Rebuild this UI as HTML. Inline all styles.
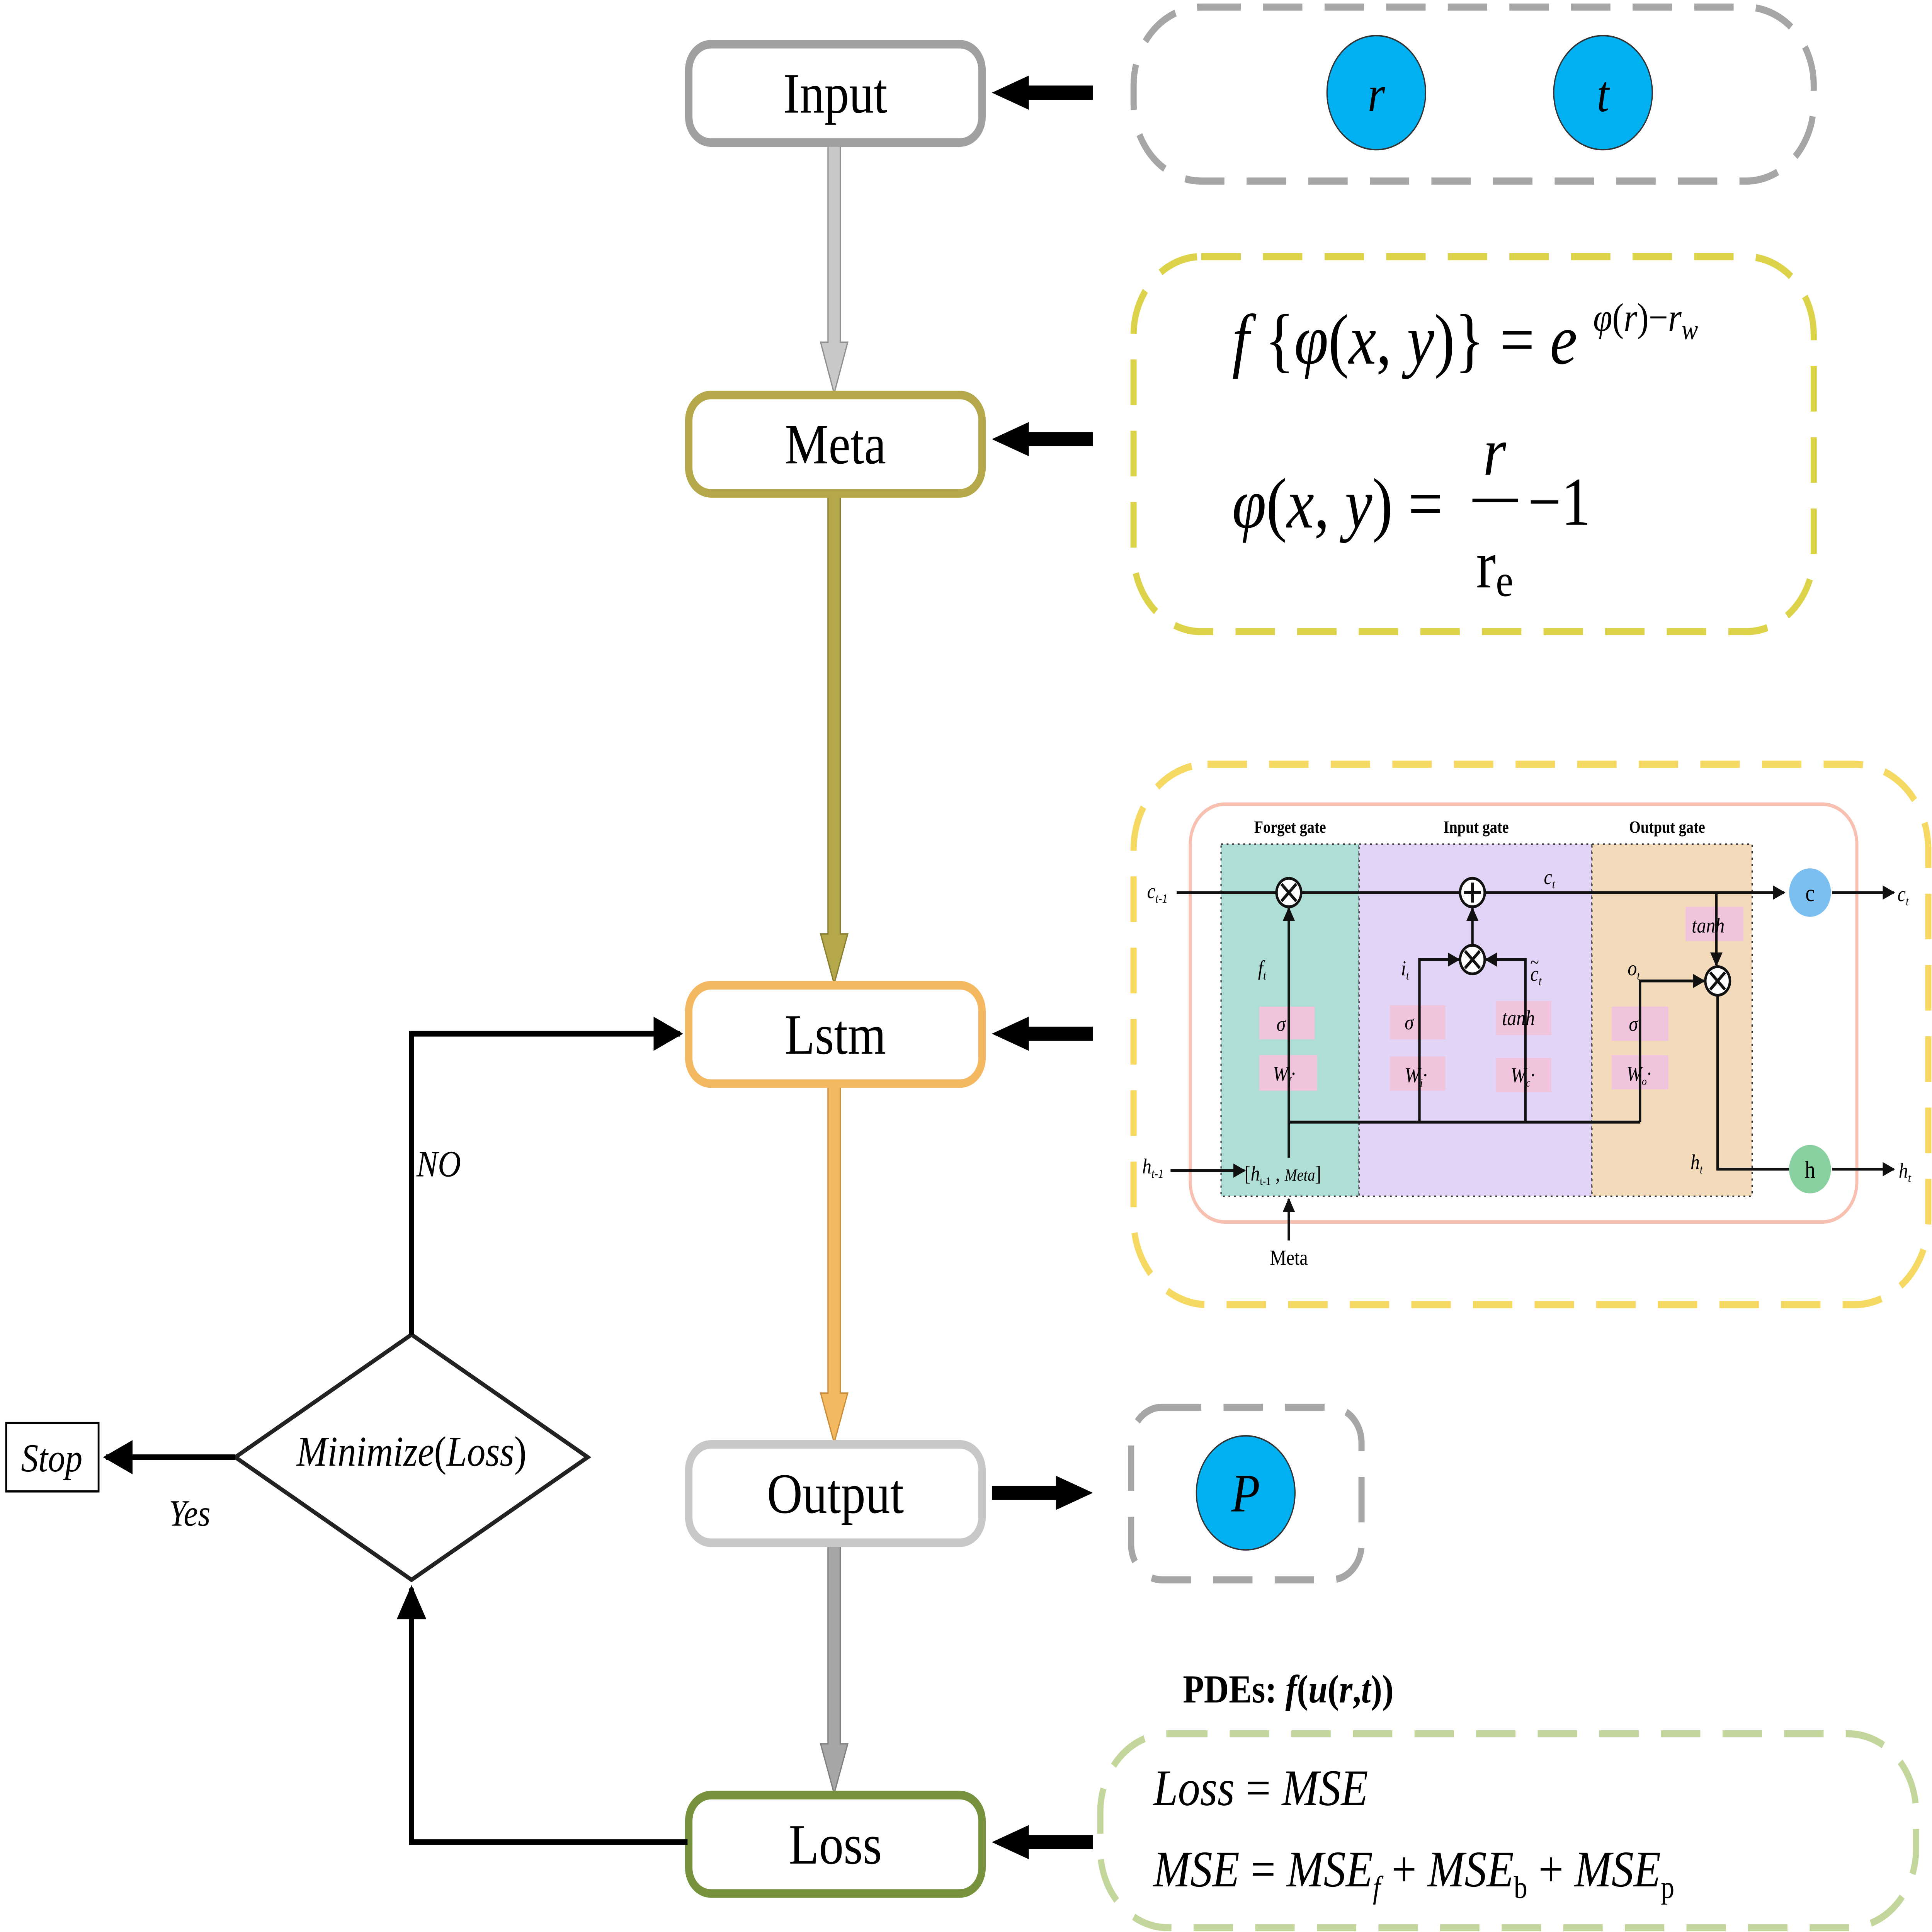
<!DOCTYPE html>
<html><head><meta charset="utf-8"><style>
html,body{margin:0;padding:0;background:#fff;overflow:hidden;width:100%;height:100%;}
svg{display:block;position:fixed;left:0;top:0;width:100vw;height:100vh;}
text{font-family:"Liberation Serif",serif;}
</style></head><body>
<svg viewBox="0 0 1568 1355" preserveAspectRatio="none" xmlns="http://www.w3.org/2000/svg">
<defs>
<marker id="ah" viewBox="0 0 10 10" refX="9" refY="5" markerWidth="6" markerHeight="6" orient="auto-start-reverse"><path d="M0,0 L10,5 L0,10 z" fill="#000"/></marker>
<marker id="as" viewBox="0 0 10 10" refX="9" refY="5" markerWidth="5" markerHeight="5" orient="auto-start-reverse"><path d="M0,0 L10,5 L0,10 z" fill="#111"/></marker>
</defs>
<rect width="1568" height="1355" fill="#fff"/>

<path d="M672,100 H682 V240 H688 L677,276 L666,240 H672 Z" fill="#c8c8c8" stroke="#909090" stroke-width="1"/>
<path d="M672,346 H682 V655 H688 L677,690 L666,655 H672 Z" fill="#b5a84a" stroke="#8a7f30" stroke-width="1"/>
<path d="M672,760 H682 V977 H688 L677,1012 L666,977 H672 Z" fill="#f4b860" stroke="#c98e3a" stroke-width="1"/>
<path d="M672,1082 H682 V1223 H688 L677,1258 L666,1223 H672 Z" fill="#a6a6a6" stroke="#808080" stroke-width="1"/>

<g stroke-width="6" fill="#fff">
<rect x="559" y="31" width="238" height="69" rx="18" stroke="#a0a0a0"/>
<rect x="559" y="277" width="238" height="69" rx="18" stroke="#b5a84a"/>
<rect x="559" y="691" width="238" height="69" rx="18" stroke="#f4b860"/>
<rect x="559" y="1013" width="238" height="69" rx="18" stroke="#c8c8c8"/>
<rect x="559" y="1259" width="238" height="69" rx="18" stroke="#76923c"/>
</g>
<g font-size="40" text-anchor="middle" fill="#000">
<text x="678" y="79">Input</text>
<text x="678" y="325">Meta</text>
<text x="678" y="739">Lstm</text>
<text x="678" y="1061">Output</text>
<text x="678" y="1307">Loss</text>
</g>

<g fill="#000">
<path d="M887,60 H835 V53 L805,65 L835,77 V70 H887 Z"/>
<path d="M887,303 H835 V296 L805,308 L835,320 V313 H887 Z"/>
<path d="M887,720 H835 V713 L805,725 L835,737 V730 H887 Z"/>
<path d="M887,1287 H835 V1280 L805,1292 L835,1304 V1297 H887 Z"/>
<path d="M805,1042 H857 V1035 L887,1047 L857,1059 V1052 H805 Z"/>
</g>

<g fill="none" stroke-width="5" stroke-dasharray="32,18">
<rect x="920" y="5" width="552" height="122" rx="55" stroke="#a6a6a6"/>
<rect x="920" y="180" width="552" height="263" rx="55" stroke="#dcd34a"/>
<rect x="920" y="536" width="645" height="379" rx="60" stroke="#f5d962"/>
<rect x="918" y="987" width="187" height="121" rx="25" stroke="#a6a6a6"/>
<rect x="893" y="1216" width="662" height="136" rx="55" stroke="#c3d69b"/>
</g>

<circle cx="1117" cy="65" r="40" fill="#00b0f0" stroke="#333" stroke-width="1"/>
<circle cx="1301" cy="65" r="40" fill="#00b0f0" stroke="#333" stroke-width="1"/>
<text x="1117" y="78" font-size="36" font-style="italic" text-anchor="middle">r</text>
<text x="1301" y="78" font-size="36" font-style="italic" text-anchor="middle">t</text>
<circle cx="1011" cy="1047" r="40" fill="#00b0f0" stroke="#333" stroke-width="1"/>
<text x="1011" y="1060" font-size="38" font-style="italic" text-anchor="middle">P</text>

<text x="1000" y="255" font-size="50" font-style="italic">f<tspan font-style="normal"> {</tspan>φ<tspan font-style="normal">(</tspan>x<tspan font-style="normal">, </tspan>y<tspan font-style="normal">)}</tspan><tspan font-style="normal"> = </tspan>e</text>
<text x="1293" y="232" font-size="28" font-style="italic">φ<tspan font-style="normal">(</tspan>r<tspan font-style="normal">)−</tspan>r<tspan font-size="20" dy="6">w</tspan></text>
<text x="1000" y="370" font-size="50" font-style="italic">φ<tspan font-style="normal">(</tspan>x<tspan font-style="normal">, </tspan>y<tspan font-style="normal">) =</tspan></text>
<text x="1213" y="333" font-size="48" font-style="italic" text-anchor="middle">r</text>
<line x1="1195" y1="351" x2="1232" y2="351" stroke="#000" stroke-width="2.5"/>
<text x="1240" y="368" font-size="48">−1</text>
<text x="1198" y="412" font-size="48">r<tspan font-size="32" dy="6">e</tspan></text>

<text x="960" y="1194" font-size="28" font-weight="bold">PDEs:  <tspan font-style="italic">f</tspan>(<tspan font-style="italic">u</tspan>(<tspan font-style="italic">r</tspan>,<tspan font-style="italic">t</tspan>))</text>
<text x="936" y="1266" font-size="36" font-style="italic">Loss <tspan font-style="normal">=</tspan> MSE</text>
<text x="936" y="1323" font-size="36" font-style="italic">MSE <tspan font-style="normal">=</tspan> MSE<tspan font-size="22" dy="8">f</tspan><tspan dy="-8" font-style="normal"> + </tspan>MSE<tspan font-size="22" dy="8" font-style="normal">b</tspan><tspan dy="-8" font-style="normal"> + </tspan>MSE<tspan font-size="22" dy="8" font-style="normal">p</tspan></text>

<polygon points="334,936 477,1022 334,1108 191,1022" fill="#fff" stroke="#222" stroke-width="3"/>
<text x="334" y="1028" font-size="30" font-style="italic" text-anchor="middle">Minimize<tspan font-style="normal">(</tspan>Loss<tspan font-style="normal">)</tspan></text>
<polyline points="334,936 334,725 552,725" fill="none" stroke="#000" stroke-width="4" marker-end="url(#ah)"/>
<polyline points="558,1292 334,1292 334,1114" fill="none" stroke="#000" stroke-width="4" marker-end="url(#ah)"/>
<line x1="191" y1="1022" x2="86" y2="1022" stroke="#000" stroke-width="4" marker-end="url(#ah)"/>
<text x="338" y="825" font-size="26" font-style="italic">NO</text>
<text x="137" y="1070" font-size="26" font-style="italic">Yes</text>
<rect x="5" y="998" width="75" height="48" fill="#fff" stroke="#000" stroke-width="1.5"/>
<text x="42" y="1032" font-size="28" font-style="italic" text-anchor="middle">Stop</text>

<rect x="966" y="564" width="541" height="293" rx="28" fill="#fff" stroke="#f8c0b0" stroke-width="2.5"/>
<g stroke="#333" stroke-width="1" stroke-dasharray="1.5,3">
<rect x="991" y="592" width="112" height="247" fill="#aeded6"/>
<rect x="1103" y="592" width="189" height="247" fill="#e2d4f6"/>
<rect x="1292" y="592" width="130" height="247" fill="#f2dabb"/>
</g>
<g font-size="12" font-weight="bold" text-anchor="middle">
<text x="1047" y="584">Forget gate</text>
<text x="1198" y="584">Input gate</text>
<text x="1353" y="584">Output gate</text>
</g>
<g fill="#f0c4dc">
<rect x="1022" y="706" width="45" height="23"/>
<rect x="1022" y="740" width="47" height="25"/>
<rect x="1128" y="705" width="45" height="24"/>
<rect x="1128" y="741" width="45" height="24"/>
<rect x="1214" y="702" width="45" height="24"/>
<rect x="1214" y="742" width="45" height="24"/>
<rect x="1308" y="706" width="46" height="24"/>
<rect x="1308" y="740" width="46" height="24"/>
<rect x="1368" y="636" width="47" height="24"/>
</g>
<g stroke="#111" stroke-width="2" fill="none">
<line x1="955" y1="626" x2="1448" y2="626" marker-end="url(#as)"/>
<line x1="1487" y1="626" x2="1537" y2="626" marker-end="url(#as)"/>
<line x1="1046" y1="812" x2="1046" y2="637" marker-end="url(#as)"/>
<line x1="1046" y1="787" x2="1331" y2="787"/>
<polyline points="1152,787 1152,673 1184,673" marker-end="url(#as)"/>
<polyline points="1238,787 1238,673 1206,673" marker-end="url(#as)"/>
<line x1="1195" y1="663" x2="1195" y2="637" marker-end="url(#as)"/>
<polyline points="1331,787 1331,688 1383,688" marker-end="url(#as)"/>
<line x1="1393" y1="626" x2="1393" y2="677" marker-end="url(#as)"/>
<polyline points="1394,698 1394,820 1452,820"/>
<line x1="1487" y1="820" x2="1537" y2="820" marker-end="url(#as)"/>
<line x1="950" y1="821" x2="1010" y2="821" marker-end="url(#as)"/>
<line x1="1046" y1="870" x2="1046" y2="841" marker-end="url(#as)"/>
</g>
<g fill="#fff" stroke="#111" stroke-width="2">
<circle cx="1046" cy="626" r="10"/><circle cx="1195" cy="626" r="10"/>
<circle cx="1195" cy="673" r="10"/><circle cx="1394" cy="688" r="10"/>
</g>
<g stroke="#111" stroke-width="2.2">
<path d="M1040,620 L1052,632 M1052,620 L1040,632"/>
<path d="M1189,667 L1201,679 M1201,667 L1189,679"/>
<path d="M1388,682 L1400,694 M1400,682 L1388,694"/>
<path d="M1195,619 V633 M1188,626 H1202"/>
</g>
<circle cx="1469" cy="626" r="17" fill="#7bbff0"/>
<circle cx="1469" cy="820" r="17" fill="#88d0a0"/>
<text x="1469" y="632" font-size="17" text-anchor="middle">c</text>
<text x="1469" y="826" font-size="17" text-anchor="middle">h</text>
<g font-size="15" font-style="italic">
<text x="931" y="630">c<tspan font-size="9" dy="3">t-1</tspan></text>
<text x="1253" y="620">c<tspan font-size="9" dy="3">t</tspan></text>
<text x="1540" y="632">c<tspan font-size="9" dy="3">t</tspan></text>
<text x="927" y="823">h<tspan font-size="9" dy="3">t-1</tspan></text>
<text x="1541" y="826">h<tspan font-size="9" dy="3">t</tspan></text>
<text x="1372" y="820">h<tspan font-size="9" dy="3">t</tspan></text>
<text x="1021" y="684">f<tspan font-size="9" dy="3">t</tspan></text>
<text x="1137" y="684">i<tspan font-size="9" dy="3">t</tspan></text>
<text x="1242" y="688">c<tspan font-size="9" dy="3">t</tspan></text>
<text x="1242" y="679" font-size="13" font-style="normal">~</text>
<text x="1321" y="684">o<tspan font-size="9" dy="3">t</tspan></text>
<text x="1036" y="723">σ</text>
<text x="1140" y="722">σ</text>
<text x="1322" y="723">σ</text>
<text x="1219" y="719">tanh</text>
<text x="1373" y="654">tanh</text>
<text x="1033" y="758">W<tspan font-size="8" dy="3">f</tspan><tspan dy="-3">·</tspan></text>
<text x="1140" y="759">W<tspan font-size="8" dy="3">i</tspan><tspan dy="-3">·</tspan></text>
<text x="1226" y="759">W<tspan font-size="8" dy="3">c</tspan><tspan dy="-3">·</tspan></text>
<text x="1320" y="758">W<tspan font-size="8" dy="3">o</tspan><tspan dy="-3">·</tspan></text>
</g>
<text x="1010" y="828" font-size="15">[<tspan font-style="italic">h</tspan><tspan font-size="8" dy="3">t-1</tspan><tspan dy="-3"> , </tspan><tspan font-style="italic" font-size="12">Meta</tspan>]</text>
<text x="1046" y="887" font-size="15" text-anchor="middle">Meta</text>
</svg>
</body></html>
